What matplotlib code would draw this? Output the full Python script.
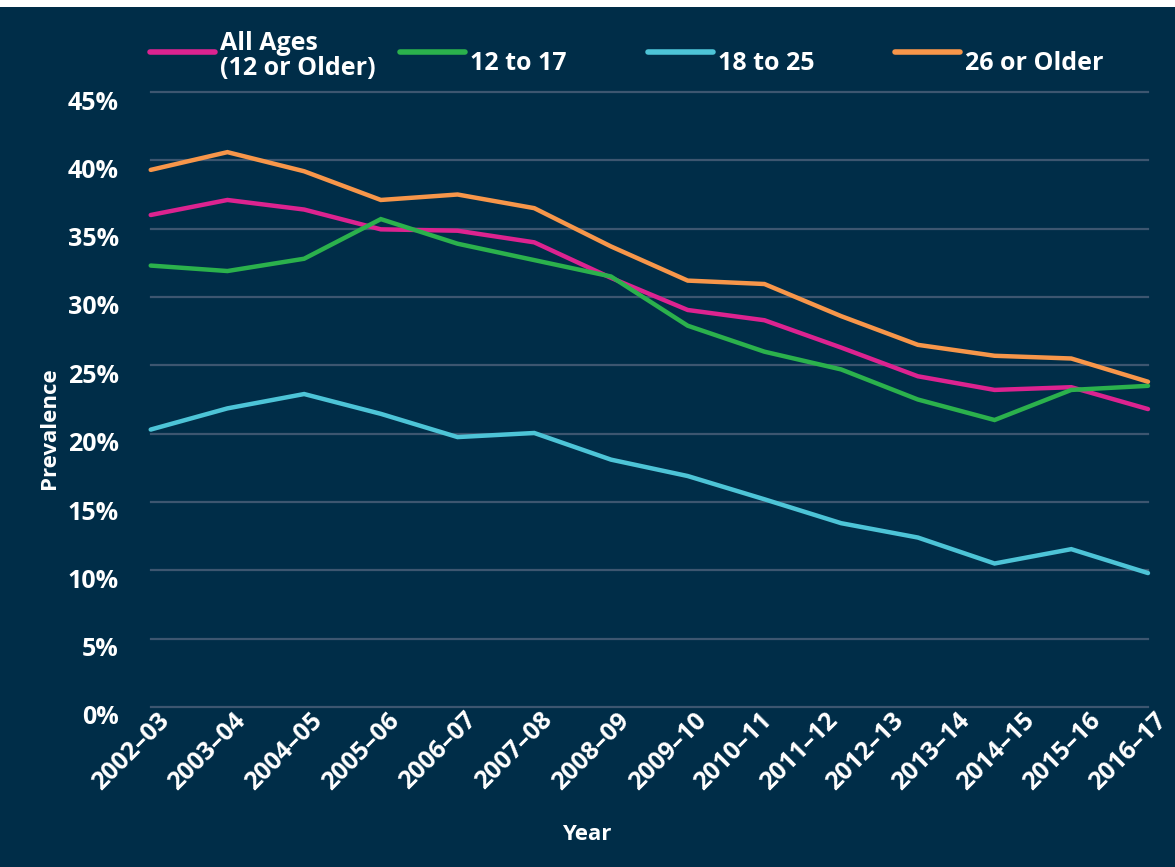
import matplotlib
matplotlib.use("Agg")
import matplotlib.pyplot as plt
import matplotlib.transforms as mtransforms
from matplotlib.lines import Line2D
from matplotlib.patches import Rectangle
import numpy as np

# survey years (x tick labels)
years = ["2002\u201303", "2003\u201304", "2004\u201305", "2005\u201306",
         "2006\u201307", "2007\u201308", "2008\u201309", "2009\u201310",
         "2010\u201311", "2011\u201312", "2012\u201313", "2013\u201314",
         "2014\u201315", "2015\u201316", "2016\u201317"]

# prevalence (%), 14 points per series
all_ages = [36.0, 37.1, 36.4, 34.95, 34.85, 34.0, 31.4, 29.05, 28.3, 26.3,
            24.2, 23.2, 23.4, 21.8]
age_12_17 = [32.3, 31.9, 32.8, 35.7, 33.9, 32.7, 31.5, 27.9, 26.0, 24.7,
             22.5, 21.0, 23.2, 23.5]
age_18_25 = [20.3, 21.85, 22.9, 21.45, 19.75, 20.05, 18.1, 16.9, 15.2, 13.45,
             12.4, 10.5, 11.55, 9.8]
age_26_up = [39.3, 40.6, 39.2, 37.1, 37.5, 36.5, 33.7, 31.2, 30.95, 28.6,
             26.5, 25.7, 25.5, 23.8]

series = [
    ("All Ages\n(12 or Older)", all_ages, "#DC2390"),
    ("12 to 17", age_12_17, "#2BB14C"),
    ("18 to 25", age_18_25, "#4DC4D7"),
    ("26 or Older", age_26_up, "#F7964A"),
]

bg = "#002D48"
grid_col = "#3D5670"
plt.rcParams["font.family"] = ["Open Sans", "DejaVu Sans"]
plt.rcParams["font.weight"] = "bold"
fs = 18

fig = plt.figure(figsize=(11.75, 8.67), dpi=100, facecolor=bg)
# thin white margin at the top of the original image
fig.add_artist(Rectangle((0, 1 - 7 / 867), 1, 7 / 867, transform=fig.transFigure,
                         facecolor="white", edgecolor="none"))

ax = fig.add_axes([150.7 / 1175, 1 - 707 / 867, 997.3 / 1175, 615 / 867])
ax.set_facecolor(bg)

n = len(all_ages)
x = np.arange(n)
for label, vals, col in series:
    ax.plot(x, vals, color=col, lw=3.2, solid_capstyle="round",
            solid_joinstyle="miter", clip_on=False, zorder=3)

ax.set_xlim(0, n - 1)
ax.set_ylim(0, 45)
ax.set_yticks(np.arange(0, 46, 5))
ax.set_yticklabels([f"{v}%" for v in range(0, 46, 5)])
ax.yaxis.grid(True, color=grid_col, lw=1.6)
ax.set_axisbelow(True)
for gl in ax.get_ygridlines():
    gl.set_clip_on(False)

# the later tick labels are squeezed in the original chart
tick_pos = np.concatenate([np.arange(7), np.linspace(7, n - 1, 8)])
ax.set_xticks(tick_pos)
ax.set_xticklabels(years, rotation=45, ha="right", va="top",
                   rotation_mode="anchor")

for s in ax.spines.values():
    s.set_visible(False)
ax.tick_params(axis="both", length=0, colors="white", labelsize=fs)
ax.tick_params(axis="y", pad=23)
ax.tick_params(axis="x", pad=2)

off_y = mtransforms.ScaledTranslation(0, -8 / 100, fig.dpi_scale_trans)
for t in ax.get_yticklabels():
    t.set_transform(t.get_transform() + off_y)
off_x = mtransforms.ScaledTranslation(6 / 100, 2 / 100, fig.dpi_scale_trans)
for t in ax.get_xticklabels():
    t.set_transform(t.get_transform() + off_x)

ax.set_ylabel("Prevalence", color="white", fontsize=16, fontweight="bold")
ax.set_xlabel("Year", color="white", fontsize=16, fontweight="bold")
ax.yaxis.set_label_coords(-0.101, 0.4537)
ax.xaxis.set_label_coords(0.4375, -0.208)
ax.xaxis.label.set_va("center")
ax.yaxis.label.set_va("center")

# legend drawn across the top
leg_x = [150, 400, 648, 895]
for (label, vals, col), lx in zip(series, leg_x):
    fig.add_artist(Line2D([lx / 1175, (lx + 65) / 1175], [1 - 52 / 867] * 2,
                          transform=fig.transFigure, color=col, lw=4,
                          solid_capstyle="round"))
    ty = 56 if "\n" in label else 63
    fig.text((lx + 70) / 1175, 1 - ty / 867, label, color="white",
             fontsize=fs, fontweight="bold", ha="left", va="center",
             linespacing=1.05)

fig.savefig("out.png", dpi=100, facecolor=bg)
